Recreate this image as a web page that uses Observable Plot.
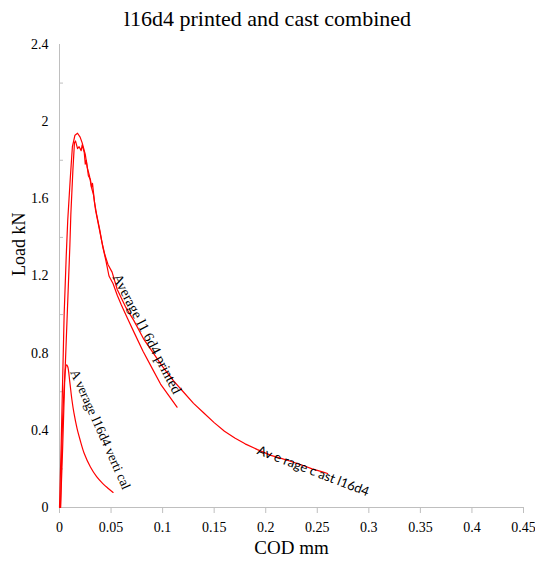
<!DOCTYPE html>
<html>
<head>
<meta charset="utf-8">
<script src="https://cdn.jsdelivr.net/npm/d3@7"></script>
<script src="https://cdn.jsdelivr.net/npm/@observablehq/plot@0.6"></script>
</head>
<body style="margin:0;background:#fff">
<div id="title" style="height:36px;line-height:38px;text-align:center;font-family:'Liberation Serif';font-size:22px;color:#000;width:535px">l16d4 printed and cast combined</div>
<div id="chart"></div>
<script>
const xTicks = [0, 0.05, 0.1, 0.15, 0.2, 0.25, 0.3, 0.35, 0.4, 0.45];
const yTicks = [0, 0.4, 0.8, 1.2, 1.6, 2, 2.4];
const yMinorTicks = [0.2, 0.6, 1.0, 1.4, 1.8, 2.2];

// Average cast l16d4 (outer curve)
const castX = [0, 0.0015, 0.003, 0.0045, 0.0065, 0.008, 0.0105, 0.0125, 0.015, 0.0175, 0.020, 0.022, 0.025, 0.027, 0.029, 0.031, 0.033, 0.035, 0.038, 0.041, 0.044, 0.047, 0.051, 0.056, 0.064, 0.072, 0.082, 0.091, 0.100, 0.110, 0.120, 0.130, 0.140, 0.150, 0.160, 0.170, 0.180, 0.192, 0.205, 0.215, 0.224, 0.235, 0.245, 0.255, 0.260];
const castY = [0, 0.3, 0.65, 1.0, 1.3, 1.49, 1.71, 1.87, 1.93, 1.94, 1.92, 1.89, 1.83, 1.76, 1.72, 1.66, 1.62, 1.54, 1.46, 1.38, 1.31, 1.26, 1.22, 1.13, 1.04, 0.97, 0.87, 0.80, 0.73, 0.66, 0.60, 0.54, 0.49, 0.44, 0.395, 0.36, 0.33, 0.30, 0.27, 0.255, 0.24, 0.22, 0.20, 0.185, 0.176];

// Average l16d4 printed (inner curve)
const printedX = [0.001, 0.003, 0.005, 0.0075, 0.010, 0.011, 0.013, 0.0145, 0.0155, 0.0175, 0.019, 0.021, 0.022, 0.024, 0.025, 0.026, 0.028, 0.030, 0.031, 0.032, 0.034, 0.036, 0.039, 0.042, 0.045, 0.048, 0.052, 0.056, 0.060, 0.066, 0.073, 0.081, 0.090, 0.098, 0.106, 0.114];
const printedY = [0, 0.3, 0.65, 1.0, 1.35, 1.52, 1.75, 1.89, 1.90, 1.86, 1.87, 1.85, 1.88, 1.84, 1.78, 1.80, 1.72, 1.70, 1.66, 1.68, 1.58, 1.52, 1.44, 1.35, 1.28, 1.20, 1.16, 1.10, 1.05, 0.98, 0.90, 0.81, 0.72, 0.64, 0.58, 0.52];

// Average l16d4 vertical
const verticalX = [0.001, 0.002, 0.003, 0.0045, 0.0058, 0.0068, 0.008, 0.010, 0.012, 0.014, 0.017, 0.020, 0.024, 0.030, 0.036, 0.042, 0.047, 0.052];
const verticalY = [0, 0.25, 0.45, 0.62, 0.72, 0.74, 0.73, 0.65, 0.56, 0.49, 0.41, 0.35, 0.28, 0.21, 0.16, 0.124, 0.10, 0.078];

const labelVertical = {text: "A verage l16d4 verti cal", x: 0.0397, y: 0.405};
const labelPrinted = {text: "Average l1 6d4 printed", x: 0.0849, y: 0.90};
const labelCast = {text: "Av e rage c ast l16d4", x: 0.246, y: 0.188};

const toPts = (xs, ys) => xs.map((x, i) => ({x, y: ys[i]}));
const cast = toPts(castX, castY);
const printed = toPts(printedX, printedY);
const vertical = toPts(verticalX, verticalY);

const gray = "#bfbfbf";
const serif = "Liberation Serif";

const chart = Plot.plot({
  width: 535,
  height: 526,
  marginTop: 8,
  marginBottom: 55,
  marginLeft: 59,
  marginRight: 12,
  style: {fontFamily: serif, background: "#fff", color: "#000"},
  x: {domain: [0, 0.45], label: null},
  y: {domain: [0, 2.4], label: null},
  marks: [
    Plot.ruleX([0], {stroke: gray, strokeWidth: 1}),
    Plot.ruleY([0], {stroke: gray, strokeWidth: 1}),
    Plot.axisY(yMinorTicks, {anchor: "left", tickSize: 4, dx: 4, stroke: gray, tickFormat: () => "", label: null}),
    Plot.axisY(yTicks, {anchor: "left", tickSize: 0, tickPadding: 11, fontSize: 14, fontFamily: serif, tickFormat: d3.format("~g"), label: null}),
    Plot.axisX(xTicks, {anchor: "bottom", tickSize: 6, tickPadding: 9, stroke: gray, fontSize: 14, fontFamily: serif, tickFormat: d3.format("~g"), label: null}),
    Plot.line(vertical, {x: "x", y: "y", stroke: "#ff0000", strokeWidth: 1.2, curve: "catmull-rom"}),
    Plot.line(printed, {x: "x", y: "y", stroke: "#ff0000", strokeWidth: 1.2, curve: "linear"}),
    Plot.line(cast, {x: "x", y: "y", stroke: "#ff0000", strokeWidth: 1.2, curve: "linear"}),
    Plot.text([labelVertical], {x: "x", y: "y", text: "text", rotate: 66, fontSize: 13.5, fontFamily: serif, fill: "#000"}),
    Plot.text([labelPrinted], {x: "x", y: "y", text: "text", rotate: 62.5, fontSize: 14.5, fontFamily: serif, fill: "#000"}),
    Plot.text([labelCast], {x: "x", y: "y", text: "text", rotate: 21, fontSize: 13, fontFamily: "Lato", fill: "#000"}),
    Plot.text(["COD mm"], {frameAnchor: "bottom", dy: 46, fontSize: 19, fontFamily: serif, fill: "#000"}),
    Plot.text(["Load kN"], {frameAnchor: "left", dx: -40, rotate: -90, fontSize: 18, fontFamily: serif, fill: "#000"})
  ]
});
document.getElementById("chart").appendChild(chart);
</script>
</body>
</html>
